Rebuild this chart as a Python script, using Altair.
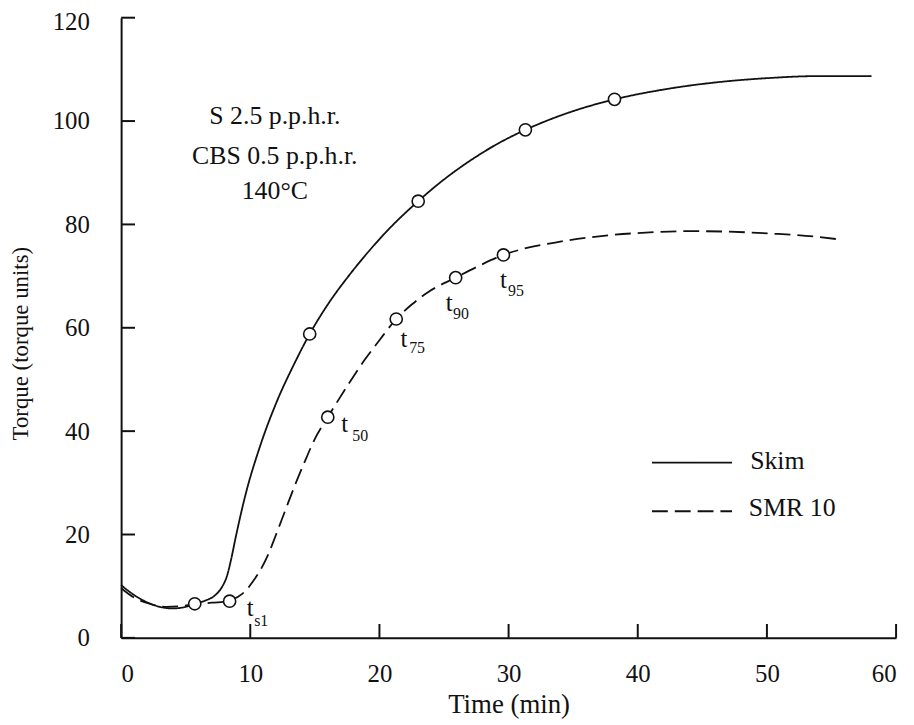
import altair as alt
import pandas as pd

FONT = "Liberation Serif"
INK = "#111111"

# ---- curves ----
skim_t = [0, 1, 2, 3, 4, 5, 5.7, 6.5, 7.3, 7.8, 8.2, 8.5, 8.9, 9.6, 10.8, 12.1, 13.4,
          14.6, 16.0, 17.7, 18.8, 20.5, 23.0, 25.0, 27.0, 29.0, 31.3, 34.5, 38.2,
          42.0, 46.5, 50.0, 54.0, 58.1]
skim_v = [10.2, 8.3, 6.9, 6.0, 5.7, 6.0, 6.6, 7.2, 8.3, 9.8, 12.0, 15.0, 19.8, 27.4, 37.4, 46.0, 53.0,
          58.8, 64.5, 70.3, 73.7, 78.5, 84.5, 88.7, 92.3, 95.4, 98.3, 101.5, 104.2,
          106.1, 107.6, 108.3, 108.7, 108.7]

smr_t = [0, 1, 2.2, 3.5, 4.5, 5.7, 7.0, 8.4, 9.0, 9.6, 10.2, 10.8, 11.4, 12.0, 12.7, 13.5,
         14.2, 15.0, 16.0, 17.5, 18.8, 20.0, 21.3, 22.5, 23.7, 25.9, 27.8, 29.6, 31.5,
         33.6, 37.0, 41.3, 44.0, 47.0, 50.5, 53.0, 55.6]
smr_v = [9.6, 7.8, 6.6, 6.0, 6.1, 6.5, 6.8, 7.1, 7.9, 9.0, 10.9, 13.2, 16.2, 20.0, 24.6, 29.8,
         34.0, 38.5, 42.7, 48.7, 53.6, 57.6, 61.7, 64.5, 66.8, 69.7, 72.1, 74.1, 75.5,
         76.5, 77.7, 78.5, 78.7, 78.6, 78.2, 77.8, 77.1]

# ---- marked cure points ----
skim_pt_t = [5.7, 14.6, 23.0, 31.3, 38.2]
skim_pt_v = [6.6, 58.8, 84.5, 98.3, 104.2]
smr_pt_t = [8.4, 16.0, 21.3, 25.9, 29.6]
smr_pt_v = [7.1, 42.7, 61.7, 69.7, 74.1]

# ---- t labels (main letter and subscript) ----
sub_names = ["s1", "50", "75", "90", "95"]
t_lab_x = [10.0, 17.3, 21.9, 25.4, 29.6]
t_lab_y = [4.2, 39.9, 56.2, 63.3, 67.7]
sub_lab_x = [10.3, 17.9, 22.3, 25.7, 29.95]
sub_lab_y = [2.3, 38.0, 55.2, 61.7, 66.1]

# ---- conditions text ----
note_lines = ["S 2.5 p.p.h.r.", "CBS 0.5 p.p.h.r.", "140°C"]
note_x = [11.9, 11.9, 11.9]
note_y = [99.4, 91.7, 85.0]

# ---- legend ----
series = ["Skim", "SMR 10"]
leg_x1 = [41.1, 41.1]
leg_x2 = [47.3, 47.3]
leg_line_y = [33.9, 24.5]
leg_text_x = [48.7, 48.6]
leg_text_y = [32.6, 23.6]

x_ticks = [0, 10, 20, 30, 40, 50, 60]
y_ticks = [0, 20, 40, 60, 80, 100, 120]

W, H = 781, 625
TICK = 14

curves = pd.concat([
    pd.DataFrame({"t": skim_t, "v": skim_v, "s": "Skim"}),
    pd.DataFrame({"t": smr_t, "v": smr_v, "s": "SMR 10"}),
])
points = pd.concat([
    pd.DataFrame({"t": skim_pt_t, "v": skim_pt_v}),
    pd.DataFrame({"t": smr_pt_t, "v": smr_pt_v}),
])
tlabs = pd.DataFrame({"t": t_lab_x, "v": t_lab_y, "txt": ["t"] * len(sub_names)})
sublabs = pd.DataFrame({"t": sub_lab_x, "v": sub_lab_y, "txt": sub_names})
notes = pd.DataFrame({"t": note_x, "v": note_y, "txt": note_lines})
legend = pd.DataFrame({"s": series, "t": leg_x1, "t2": leg_x2, "v": leg_line_y})
legend_txt = pd.DataFrame({"s": series, "t": leg_text_x, "v": leg_text_y})
xt_df = pd.DataFrame({"t": x_ticks})
yt_df = pd.DataFrame({"v": y_ticks})

xs = alt.Scale(domain=[0, 60], nice=False, zero=False)
ys = alt.Scale(domain=[0, 120], nice=False, zero=False)
dash = alt.StrokeDash("s:N", scale=alt.Scale(domain=series, range=[[1, 0], [16, 7]]), legend=None)

axis_common = dict(labelFont=FONT, titleFont=FONT, labelColor=INK, titleColor=INK,
                   titleFontWeight="normal", grid=False, domainColor=INK, domainWidth=2)

main_x_axis = alt.Axis(orient="bottom", values=x_ticks, ticks=False, labelPadding=24,
                       labelFontSize=25, titleFontSize=27, titlePadding=5, **axis_common)
main_y_axis = alt.Axis(orient="left", values=y_ticks, ticks=False, labelPadding=32,
                       labelFontSize=25, titleFontSize=23,
                       labelOffset={"condition": {"test": "datum.value == 120", "value": 4}, "value": 0},
                       titleBaseline="alphabetic", titleX=-94, titleY=328, **axis_common)


def X(field="t"):
    return alt.X(f"{field}:Q", scale=xs, axis=main_x_axis, title="Time (min)")


def Y(field="v"):
    return alt.Y(f"{field}:Q", scale=ys, axis=main_y_axis, title="Torque (torque units)")


skim_layer = alt.Chart(curves[curves.s == "Skim"]).mark_line(
    color=INK, strokeWidth=1.8, interpolate="monotone").encode(
    x=X(), y=Y(), strokeDash=dash)
smr_layer = alt.Chart(curves[curves.s == "SMR 10"]).mark_line(
    color=INK, strokeWidth=1.8, interpolate="monotone").encode(
    x=X(), y=Y(), strokeDash=dash)
xtick_layer = alt.Chart(xt_df).mark_rule(color=INK, strokeWidth=2).encode(
    x=X(), y=alt.value(H), y2=alt.value(H - TICK))
ytick_layer = alt.Chart(yt_df).mark_rule(color=INK, strokeWidth=2).encode(
    y=Y(), x=alt.value(0), x2=alt.value(TICK))
pts_layer = alt.Chart(points).mark_point(
    shape="circle", filled=True, fill="white", stroke=INK, strokeWidth=1.6,
    size=150, opacity=1).encode(x=X(), y=Y())
t_layer = alt.Chart(tlabs).mark_text(font=FONT, fontSize=25, color=INK, align="center",
                                      baseline="alphabetic").encode(x=X(), y=Y(), text="txt:N")
sub_layer = alt.Chart(sublabs).mark_text(font=FONT, fontSize=16, color=INK, align="left",
                                          baseline="alphabetic").encode(x=X(), y=Y(), text="txt:N")
note_layer = alt.Chart(notes).mark_text(font=FONT, fontSize=26, color=INK, align="center",
                                         baseline="alphabetic").encode(x=X(), y=Y(), text="txt:N")
leg_line_layer = alt.Chart(legend).mark_rule(color=INK, strokeWidth=1.8).encode(
    x=X(), x2="t2:Q", y=Y(), strokeDash=dash)
leg_text_layer = alt.Chart(legend_txt).mark_text(font=FONT, fontSize=26, color=INK, align="left",
                                                  baseline="alphabetic").encode(x=X(), y=Y(), text="s:N")

chart = alt.layer(
    skim_layer, smr_layer, xtick_layer, ytick_layer, pts_layer, t_layer, sub_layer,
    note_layer, leg_line_layer, leg_text_layer,
).properties(
    width=W, height=H,
    autosize=alt.AutoSizeParams(type="none"),
    padding={"left": 114, "top": 7, "right": 10, "bottom": 80},
    background="white",
).configure_view(stroke=None)

chart.save("out.html", embed_options={"renderer": "svg", "actions": False})
